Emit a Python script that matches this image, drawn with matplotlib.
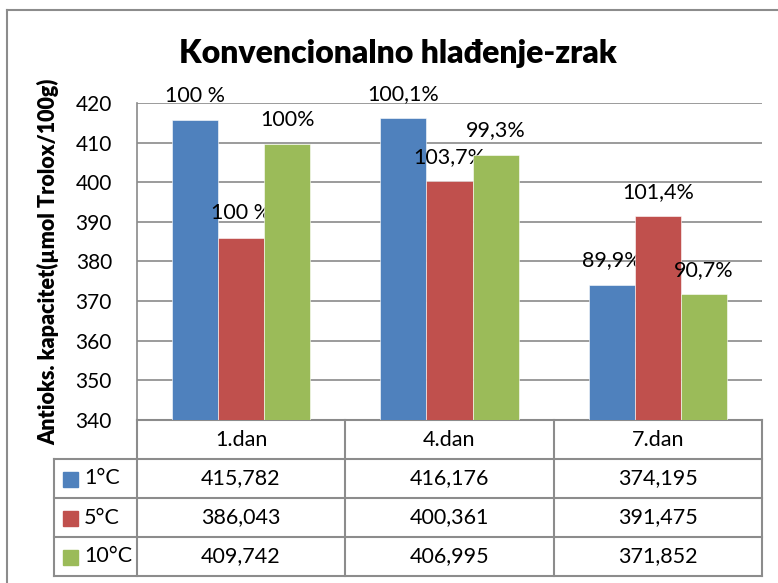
import matplotlib
matplotlib.use("Agg")
import matplotlib.pyplot as plt
import numpy as np

plt.rcParams['font.family'] = ['Lato', 'DejaVu Sans']

# ---- data ----
categories = ["1.dan", "4.dan", "7.dan"]
series_names = ["1°C", "5°C", "10°C"]
values_1C = [415.782, 416.176, 374.195]
values_5C = [386.043, 400.361, 391.475]
values_10C = [409.742, 406.995, 371.852]
labels_1C = ["100 %", "100,1%", "89,9%"]
labels_5C = ["100 %", "103,7%", "101,4%"]
labels_10C = ["100%", "99,3%", "90,7%"]
yticks = [340, 350, 360, 370, 380, 390, 400, 410, 420]
title = "Konvencionalno hlađenje-zrak"
ylabel = "Antioks. kapacitet(µmol Trolox/100g)"

colors = ["#4F81BD", "#C0504D", "#9BBB59"]
series = [values_1C, values_5C, values_10C]
labels = [labels_1C, labels_5C, labels_10C]

W, H = 778, 583
fig = plt.figure(figsize=(W / 100, H / 100), dpi=100)

# overlay in pixel coordinates for border and data table
ov = fig.add_axes([0, 0, 1, 1])
ov.set_xlim(0, W)
ov.set_ylim(H, 0)
ov.axis("off")

# main plot area
L, R, T, B = 137, 762, 103, 420
ax = fig.add_axes([L / W, 1 - B / H, (R - L) / W, (B - T) / H])
ax.set_zorder(2)
ax.patch.set_alpha(0)

x = np.arange(len(categories))
bw = 0.221
for i, (vals, col, labs) in enumerate(zip(series, colors, labels)):
    xs = x + (i - 1) * bw
    ax.bar(xs, np.array(vals) - 340, bottom=340, width=bw, color=col,
           edgecolor="white", linewidth=0.4, zorder=3)
    for xi, v, lab in zip(xs, vals, labs):
        ax.annotate(lab, (xi, v), xytext=(0, 13), textcoords="offset points",
                    ha="center", va="baseline", fontsize=15.5, color="black")

ax.set_xlim(-0.5, 2.5)
ax.set_ylim(340, 420)
ax.set_yticks(yticks)
ax.set_xticks([])
ax.yaxis.grid(True, color="#8a8a8a", linewidth=1.2, zorder=0)
ax.set_axisbelow(True)
for s in ["right", "bottom"]:
    ax.spines[s].set_visible(False)
ax.spines["top"].set_visible(False)
ax.spines["left"].set_color("#8a8a8a")
ax.spines["left"].set_linewidth(1.2)
ax.tick_params(axis="y", length=0, pad=18, labelsize=15)
ax.set_ylabel(ylabel, fontsize=15.5, fontweight="heavy", labelpad=12)

fig.text(398 / W, 1 - 53 / H, title, ha="center", va="center",
         fontsize=23, fontweight="heavy")

# outer border
lc = "#8c8c8c"
ov.plot([7, 7], [10, H + 5], color=lc, lw=1.5, clip_on=False)
ov.plot([7, W + 5], [10, 10], color=lc, lw=1.5, clip_on=False)

# data table
col_x = [137, 345, 554, 762]
row_y = [420, 459, 498, 537, 576]
leg_left = 54
tl = "#8c8c8c"
ov.plot([L, R], [row_y[0], row_y[0]], color=tl, lw=1.5)
for yy in row_y[1:]:
    ov.plot([leg_left, R], [yy, yy], color=tl, lw=1.5)
for xx in col_x:
    ov.plot([xx, xx], [row_y[0], row_y[-1]], color=tl, lw=1.5)
ov.plot([leg_left, leg_left], [row_y[1], row_y[-1]], color=tl, lw=1.5)

for j, cat in enumerate(categories):
    cx = (col_x[j] + col_x[j + 1]) / 2
    ov.text(cx, (row_y[0] + row_y[1]) / 2, cat, ha="center", va="center", fontsize=15.5)
for i, (name, vals, col) in enumerate(zip(series_names, series, colors)):
    cy = (row_y[i + 1] + row_y[i + 2]) / 2
    ov.add_patch(plt.Rectangle((63, cy - 7), 15, 15, color=col))
    ov.text(84, cy, name, ha="left", va="center", fontsize=15.5)
    for j, v in enumerate(vals):
        cx = (col_x[j] + col_x[j + 1]) / 2
        ov.text(cx, cy, f"{v:.3f}".replace(".", ","), ha="center", va="center", fontsize=15.5)

fig.savefig("out.png", dpi=100)
